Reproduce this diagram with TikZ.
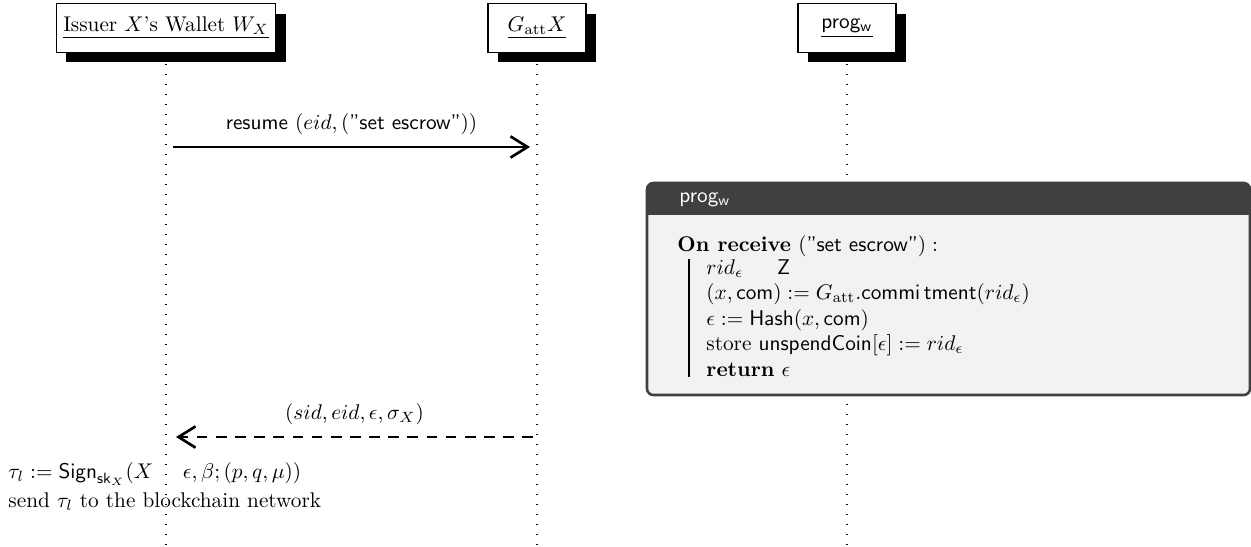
\documentclass[tikz,border=0pt]{standalone}
\usepackage{amsmath}
\usepackage{amssymb}
\usepackage{tikz}
\usetikzlibrary{arrows.meta}
\usetikzlibrary{shadows}
\usetikzlibrary{positioning}
\definecolor{progdark}{HTML}{404040}
\definecolor{proglight}{HTML}{F2F2F2}

\begin{document}
\begin{tikzpicture}[
      x=0.47pt, y=-0.47pt,
      actor/.style ={draw, semithick, fill=white, minimum width=46pt, minimum height=23pt,
                     drop shadow={fill=black, opacity=1, shadow xshift=4.7pt, shadow yshift=-4.7pt}},
      lifeline/.style ={line width=0.7pt, dash pattern=on 0.7pt off 4pt},
      msg/.style ={line width=1.25pt, -{Straight Barb[length=8pt,width=10pt]}},
      reply/.style ={msg, dash pattern=on 5pt off 4pt},
      plain/.style ={inner sep=0pt, anchor=west}
    ]
    \useasboundingbox (0,0) rectangle (1251,546) ;
    \coordinate (bottom) at (0,546) ;

    % lifeline heads
    \node [actor] (wallet) at (166,28) {\underline{Issuer $X$'s Wallet $W_X$}} ;
    \node [actor] (gatt) at (537,28) {\underline{$G_{\mathrm{att}}X$}} ;
    \node [actor] (prog) at (847,28) {\underline{\textsf{prog}$_{\mathsf{w}}$}} ;

    \draw [lifeline] ([yshift=-5pt]wallet.south) -- (wallet.south |- bottom) ;
    \draw [lifeline] ([yshift=-5pt]gatt.south) -- (gatt.south |- bottom) ;
    \draw [lifeline] ([yshift=-5pt]prog.south) -- (prog.south |- bottom) ;

    % messages
    \coordinate (resume-from) at (173,147) ;
    \coordinate (resume-to) at (530,147) ;
    \coordinate (reply-from) at (533,437) ;
    \coordinate (reply-to) at (176,437) ;
    \draw [msg] (resume-from) -- (resume-to)
      node [midway, above=2pt] (resumelbl) {\textsf{resume} $(eid, (\text{\textsf{''set escrow''}}))$} ;
    \draw [reply] (reply-from) -- (reply-to)
      node [midway, above=2pt] (replylbl) {$(sid, eid, \epsilon, \sigma_X)$} ;

    \node [plain] (signtx) at (8,474) {$\tau_l := \mathsf{Sign}_{\mathsf{sk}_X}(X\hspace{14pt}\epsilon, \beta; (p, q, \mu))$} ;
    \node [plain] (sendtx) at (8,502) {send $\tau_l$ to the blockchain network} ;

    % prog_w box
    \begin{scope}
      \clip [rounded corners=3pt] (647,183) rectangle (1250,395) ;
      \fill [proglight] (647,183) rectangle (1250,395) ;
      \fill [progdark] (647,183) rectangle (1250,215) ;
    \end{scope}
    \draw [progdark, line width=1.2pt, rounded corners=3pt] (647,183) rectangle (1250,395) ;
    \node [plain, text=white] (progtitle) at (679,200) {\textsf{prog}$_{\mathsf{w}}$} ;

    \node [plain] (onrecv) at (677,246) {\textbf{On receive} $(\text{\textsf{''set escrow''}}):$} ;
    \node [plain, anchor=north west, align=left] (algbody) at (706,259) {%
      $rid_\epsilon\hspace{16pt}\mathsf{Z}$\\
      $(x, \mathsf{com}) := G_{\mathrm{att}}.\mathsf{commi\,tment}(rid_\epsilon)$\\
      $\epsilon := \mathsf{Hash}(x, \mathsf{com})$\\
      store $\mathsf{unspendCoin}[\epsilon] := rid_\epsilon$\\
      $\textbf{return}\ \epsilon$} ;
    \draw [semithick] ([xshift=-8pt]algbody.north west) -- ([xshift=-8pt]algbody.south west) ;
  \end{tikzpicture}
\end{document}
